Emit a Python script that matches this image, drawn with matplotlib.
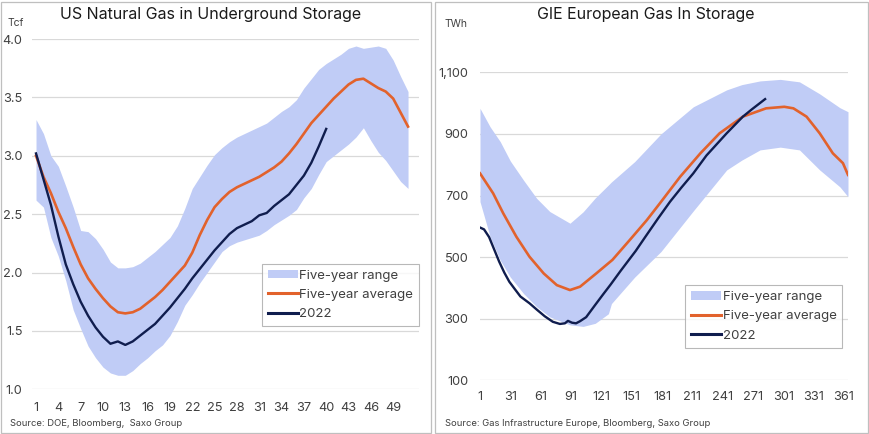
import matplotlib
matplotlib.use("Agg")
import matplotlib.pyplot as plt
from matplotlib.patches import Patch, Rectangle
from matplotlib.lines import Line2D
import numpy as np

plt.rcParams['font.family'] = ['Inter', 'DejaVu Sans']

# ---------------- US data (weekly) ----------------
us_weeks = list(range(1, 52))
us_upper = [3.31, 3.19, 3.00, 2.91, 2.74, 2.56, 2.36, 2.35, 2.29, 2.20,
            2.09, 2.04, 2.04, 2.05, 2.08, 2.13, 2.18, 2.24, 2.30, 2.40,
            2.55, 2.72, 2.82, 2.92, 3.01, 3.07, 3.12, 3.16, 3.19, 3.22,
            3.25, 3.28, 3.33, 3.38, 3.42, 3.48, 3.58, 3.66, 3.74, 3.79,
            3.83, 3.87, 3.92, 3.94, 3.92, 3.93, 3.94, 3.92, 3.82, 3.68, 3.55]
us_lower = [2.62, 2.56, 2.30, 2.14, 1.93, 1.68, 1.52, 1.37, 1.27, 1.19,
            1.14, 1.12, 1.12, 1.16, 1.22, 1.27, 1.33, 1.38, 1.46, 1.58,
            1.72, 1.81, 1.91, 2.00, 2.09, 2.18, 2.23, 2.26, 2.28, 2.30,
            2.32, 2.36, 2.41, 2.45, 2.49, 2.54, 2.64, 2.72, 2.84, 2.95,
            3.00, 3.05, 3.10, 3.16, 3.24, 3.13, 3.03, 2.96, 2.87, 2.78, 2.72]
us_avg = [3.00, 2.82, 2.68, 2.52, 2.38, 2.22, 2.07, 1.95, 1.86, 1.78,
          1.71, 1.66, 1.65, 1.66, 1.69, 1.74, 1.79, 1.85, 1.92, 1.99,
          2.06, 2.17, 2.32, 2.45, 2.56, 2.63, 2.69, 2.73, 2.76, 2.79,
          2.82, 2.86, 2.90, 2.95, 3.02, 3.10, 3.19, 3.28, 3.35, 3.42,
          3.49, 3.55, 3.61, 3.65, 3.66, 3.62, 3.58, 3.55, 3.49, 3.37, 3.25]
us_2022_weeks = list(range(1, 41))
us_2022 = [3.02, 2.80, 2.58, 2.31, 2.07, 1.90, 1.75, 1.63, 1.53, 1.45,
           1.39, 1.41, 1.38, 1.41, 1.46, 1.51, 1.56, 1.63, 1.70, 1.78,
           1.86, 1.95, 2.03, 2.11, 2.19, 2.26, 2.33, 2.38, 2.41, 2.44,
           2.49, 2.51, 2.57, 2.62, 2.67, 2.75, 2.83, 2.94, 3.08, 3.23]
us_xticks = list(range(1, 50, 3))
us_yticks = [1.0, 1.5, 2.0, 2.5, 3.0, 3.5, 4.0]

# ---------------- EU data (daily) ----------------
eu_band_days = [1, 11, 21, 31, 44, 57, 70, 90, 103, 115, 128, 131, 154, 180,
                212, 245, 260, 278, 298, 317, 337, 357, 365]
eu_upper = [983, 923, 875, 812, 750, 691, 648, 610, 647, 692, 734, 744, 810, 900,
            988, 1043, 1060, 1072, 1077, 1069, 1030, 985, 972]
eu_lower = [680, 566, 490, 435, 382, 339, 306, 280, 275, 285, 316, 349, 435, 518,
            650, 783, 815, 848, 857, 848, 783, 728, 696]
eu_avg_days = [1, 14, 24, 37, 50, 64, 77, 90, 100, 116, 132, 149, 166, 179, 189,
               199, 219, 238, 261, 284, 302, 311, 324, 337, 350, 360, 365]
eu_avg = [772, 707, 642, 566, 501, 447, 409, 393, 404, 447, 491, 555, 620, 675, 718,
          761, 837, 902, 956, 983, 988, 983, 956, 902, 837, 805, 767]
eu_2022_days = [1, 5, 10, 15, 20, 25, 30, 35, 41, 50, 57, 65, 73, 80, 85, 88, 92,
                96, 100, 106, 115, 123, 130, 140, 155, 165, 177, 189, 200, 212,
                225, 245, 261, 270, 283]
eu_2022 = [596, 590, 565, 525, 485, 450, 420, 398, 372, 350, 330, 308, 290, 283,
           285, 293, 287, 285, 292, 305, 345, 380, 410, 455, 520, 568, 625, 680,
           725, 772, 830, 902, 956, 980, 1013]
eu_xticks = list(range(1, 362, 30))
eu_yticks = [100, 300, 500, 700, 900, 1100]

band_c = '#C0CCF6'
avg_c = '#E2622C'
y22_c = '#101D4E'
grid_c = '#D9D9D9'
text_c = '#404040'

W, H = 869, 434
fig = plt.figure(figsize=(W / 100, H / 100), dpi=100)

# panel borders
for x0, x1 in [(1, 431), (435, 868)]:
    fig.patches.append(Rectangle((x0 / W, 1 / H), (x1 - x0) / W, (H - 2.5) / H,
                                 transform=fig.transFigure, fill=False,
                                 edgecolor='#BFBFBF', lw=0.9))


def ax_rect(l, r, t, b):
    return [l / W, 1 - b / H, (r - l) / W, (b - t) / H]


def style(ax):
    for s in ax.spines.values():
        s.set_visible(False)
    ax.grid(axis='y', color=grid_c, lw=0.9)
    ax.set_axisbelow(True)
    ax.tick_params(length=0, labelsize=9.2, colors=text_c)


# ---------- left ----------
ax1 = fig.add_axes(ax_rect(32.3, 419.2, 39, 389.3))
ax1.fill_between(us_weeks, us_lower, us_upper, color=band_c, lw=0)
ax1.plot(us_weeks, us_avg, color=avg_c, lw=1.9)
ax1.plot(us_2022_weeks, us_2022, color=y22_c, lw=1.7)
ax1.set_xlim(0.5, 52.5)
ax1.set_ylim(1.0, 4.0)
ax1.set_xticks(us_xticks)
ax1.set_yticks(us_yticks)
ax1.set_yticklabels([f'{v:.1f}' for v in us_yticks])
style(ax1)
ax1.tick_params(axis='x', pad=9)
ax1.tick_params(axis='y', pad=7)

fig.text(211 / W, 1 - 15 / H, 'US Natural Gas in Underground Storage',
         ha='center', va='center', fontsize=11.5, color='#1a1a1a')
fig.text(8 / W, 1 - 23 / H, 'Tcf', ha='left', va='center', fontsize=7.5, color=text_c)
fig.text(10 / W, 1 - 424 / H, 'Source: DOE, Bloomberg,  Saxo Group',
         ha='left', va='center', fontsize=6.8, color=text_c)

handles = [Patch(facecolor=band_c, edgecolor='none'),
           Line2D([], [], color=avg_c, lw=2.2),
           Line2D([], [], color=y22_c, lw=2.2)]
labels = ['Five-year range', 'Five-year average', '2022']

leg1 = fig.legend(handles, labels, loc='upper left',
                  bbox_to_anchor=(261.7 / W, 1 - 263.7 / H), bbox_transform=fig.transFigure,
                  fontsize=9.5, frameon=True, fancybox=False, edgecolor='#A6A6A6',
                  handlelength=2.3, handleheight=0.6, handletextpad=0.1,
                  labelspacing=0.55, borderpad=0.45, borderaxespad=0)
leg1.get_frame().set_linewidth(0.8)
for t in leg1.get_texts():
    t.set_color(text_c)

# ---------- right ----------
ax2 = fig.add_axes(ax_rect(480, 848, 72.3, 380.3))
ax2.fill_between(eu_band_days, eu_lower, eu_upper, color=band_c, lw=0)
ax2.plot(eu_avg_days, eu_avg, color=avg_c, lw=1.9)
ax2.plot(eu_2022_days, eu_2022, color=y22_c, lw=1.7)
ax2.set_xlim(1, 365)
ax2.set_ylim(100, 1100)
ax2.set_xticks(eu_xticks)
ax2.set_yticks(eu_yticks)
ax2.set_yticklabels([f'{v:,}' for v in eu_yticks])
style(ax2)
ax2.tick_params(axis='x', pad=8)
ax2.tick_params(axis='y', pad=8.5)

fig.text(646 / W, 1 - 15 / H, 'GIE European Gas In Storage',
         ha='center', va='center', fontsize=11.5, color='#1a1a1a')
fig.text(445 / W, 1 - 24 / H, 'TWh', ha='left', va='center', fontsize=7.5, color=text_c)
fig.text(445 / W, 1 - 424 / H, 'Source: Gas Infrastructure Europe, Bloomberg, Saxo Group',
         ha='left', va='center', fontsize=6.8, color=text_c)

leg2 = fig.legend(handles, labels, loc='upper left',
                  bbox_to_anchor=(685 / W, 1 - 285.3 / H), bbox_transform=fig.transFigure,
                  fontsize=9.5, frameon=True, fancybox=False, edgecolor='#A6A6A6',
                  handlelength=2.3, handleheight=0.6, handletextpad=0.1,
                  labelspacing=0.55, borderpad=0.45, borderaxespad=0)
leg2.get_frame().set_linewidth(0.8)
for t in leg2.get_texts():
    t.set_color(text_c)

fig.savefig('out.png', dpi=100)
